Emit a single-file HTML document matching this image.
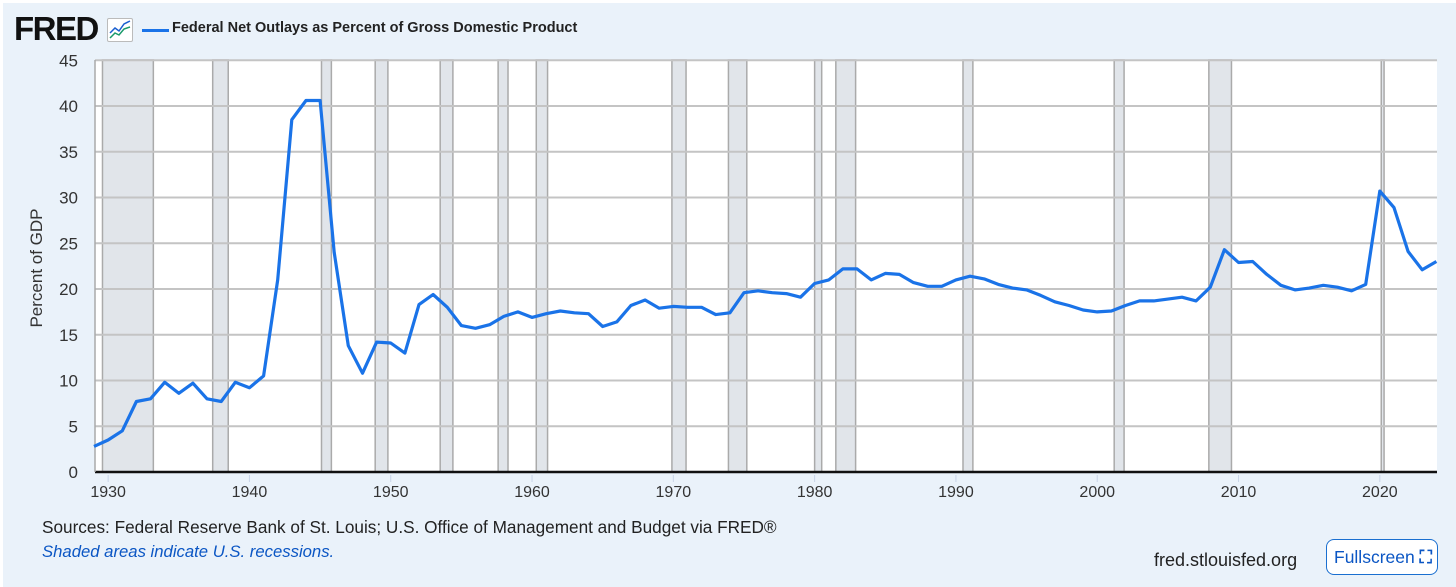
<!DOCTYPE html>
<html><head><meta charset="utf-8"><style>
html,body{margin:0;padding:0;background:#fff;}
#wrap{position:absolute;left:3px;top:3px;width:1453px;height:584px;background:#eaf2fa;font-family:"Liberation Sans",sans-serif;}
.t{position:absolute;white-space:nowrap;}
</style></head><body>
<div id="wrap">
<div class="t" style="left:11px;top:7px;font-size:33px;font-weight:900;letter-spacing:-1.5px;color:#111;">FRED</div>
<div style="position:absolute;left:104px;top:15px;width:24px;height:22px;background:#fff;border:1px solid #bbb;border-radius:2px;">
<svg width="24" height="22"><polyline points="2,14 7,9 11,12 16,5 22,2" fill="none" stroke="#1a5fd0" stroke-width="1.5"/><polyline points="2,19 7,14 11,16 16,10 22,8" fill="none" stroke="#1a9a6a" stroke-width="1.5"/></svg></div>
<div style="position:absolute;left:139px;top:26px;width:27px;height:3px;background:#1a73e8;"></div>
<div class="t" style="left:169px;top:17px;font-size:14.5px;font-weight:bold;color:#222;">Federal Net Outlays as Percent of Gross Domestic Product</div>
<div class="t" style="left:-26px;top:255px;font-size:17px;color:#333;transform:rotate(-90deg);transform-origin:center;width:120px;text-align:center;">Percent of GDP</div>
<div class="t" style="left:39px;top:514px;font-size:17.2px;color:#222;">Sources: Federal Reserve Bank of St. Louis; U.S. Office of Management and Budget via FRED®</div>
<div class="t" style="left:39px;top:539px;font-size:16.7px;font-style:italic;color:#0b56c4;">Shaded areas indicate U.S. recessions.</div>
<div class="t" style="left:1151px;top:547px;font-size:18px;color:#222;">fred.stlouisfed.org</div>
<div style="position:absolute;left:1323px;top:536px;width:112px;height:36px;border:1px solid #1a6fd0;border-radius:8px;background:#fff;box-sizing:border-box;color:#0b56c4;font-size:17.5px;line-height:34px;padding-left:7px;">Fullscreen <span style="font-weight:bold;">⛶</span></div>
</div>
<svg id="chart" width="1456" height="587" style="position:absolute;left:0;top:0;"></svg>
<script>
const years=[];for(let y=1929;y<=2024;y++)years.push(y);
const values=[2.8,3.5,4.5,7.7,8.0,9.8,8.6,9.7,8.0,7.7,9.8,9.2,10.5,21,38.5,40.6,40.6,24,13.8,10.8,14.2,14.1,13.0,18.3,19.4,18.0,16.0,15.7,16.1,17.0,17.5,16.9,17.3,17.6,17.4,17.3,15.9,16.4,18.2,18.8,17.9,18.1,18.0,18.0,17.2,17.4,19.6,19.8,19.6,19.5,19.1,20.6,21.0,22.2,22.2,21.0,21.7,21.6,20.7,20.3,20.3,21.0,21.4,21.1,20.5,20.1,19.9,19.3,18.6,18.2,17.7,17.5,17.6,18.2,18.7,18.7,18.9,19.1,18.7,20.2,24.3,22.9,23.0,21.6,20.4,19.9,20.1,20.4,20.2,19.8,20.5,30.7,28.9,24.1,22.1,23.0];
const yTicks=[0,5,10,15,20,25,30,35,40,45];
const xTicks=[1930,1940,1950,1960,1970,1980,1990,2000,2010,2020];
const recStart=[1929.6,1937.4,1945.1,1948.9,1953.5,1957.6,1960.3,1969.9,1973.9,1980.0,1981.5,1990.5,2001.2,2007.9,2020.1];
const recEnd=[1933.2,1938.5,1945.8,1949.8,1954.4,1958.3,1961.1,1970.9,1975.2,1980.5,1982.9,1991.2,2001.9,2009.5,2020.3];
const L=95,R=1437,T=60,B=472;
const xs=y=>94+(y-1929)*14.13;
const ys=v=>B-v*9.15;
const svg=document.getElementById('chart');const NS='http://www.w3.org/2000/svg';
function mk(t,a,p){const e=document.createElementNS(NS,t);for(const k in a)e.setAttribute(k,a[k]);(p||svg).appendChild(e);return e;}
const bg=mk('rect',{x:L,y:T,width:R-L,height:B-T,fill:'#fff'});


for(let i=0;i<recStart.length;i++){
 const r=mk('rect',{x:xs(recStart[i]),y:T,width:xs(recEnd[i])-xs(recStart[i]),height:B-T,fill:'#e1e5ea',stroke:'#aaa','stroke-width':1.5});
 
 
}
yTicks.forEach(v=>{
 const g=mk('line',{x1:L,x2:R,y1:ys(v),y2:ys(v),stroke:'#c4c4c4','stroke-width':2});
 
 
 const t=mk('text',{x:78,y:ys(v)+6,'text-anchor':'end','font-size':17,fill:'#333','font-family':'Liberation Sans, sans-serif'});
 t.textContent=v;
 
 
});
const ax=mk('line',{x1:L,x2:R,y1:B,y2:B,stroke:'#111','stroke-width':2.5});


const ay=mk('line',{x1:L,x2:L,y1:T,y2:B,stroke:'#aaa','stroke-width':1.5});


xTicks.forEach(y=>{
 const tk=mk('line',{x1:xs(y),x2:xs(y),y1:B+3,y2:B+10,stroke:'#c8d4e8','stroke-width':1});
 
 
 const t=mk('text',{x:xs(y),y:B+25,'text-anchor':'middle','font-size':16,fill:'#333','font-family':'Liberation Sans, sans-serif'});
 t.textContent=y;
 
 
});
const pts=years.map((y,i)=>xs(y).toFixed(1)+','+ys(values[i]).toFixed(1)).join(' ');
const line=mk('polyline',{points:pts,fill:'none',stroke:'#1a73e8','stroke-width':3.2,'stroke-linejoin':'round'});


</script>
</body></html>
